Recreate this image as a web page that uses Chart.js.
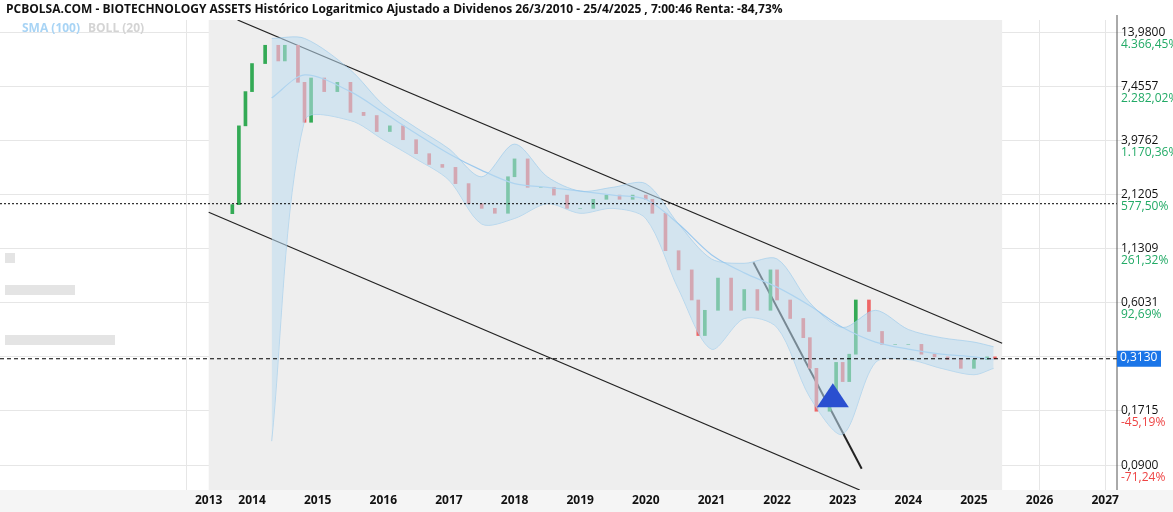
<!DOCTYPE html><html><head><meta charset="utf-8">
<script src="https://cdn.jsdelivr.net/npm/chart.js@4/dist/chart.umd.min.js"></script>
<style>body{margin:0;background:#fff}#w{position:relative;width:1173px;height:512px}</style></head><body><div id="w"><canvas id="c" width="1173" height="512"></canvas></div>
<script>
const years=[2013.70,2013.80,2013.90,2014.00,2014.20,2014.40,2014.50,2014.70,2014.80,2014.90,2015.10,2015.30,2015.50,2015.70,2015.90,2016.10,2016.30,2016.50,2016.70,2016.90,2017.10,2017.30,2017.50,2017.70,2017.90,2018.00,2018.20,2018.40,2018.60,2018.80,2019.00,2019.20,2019.40,2019.60,2019.80,2020.00,2020.10,2020.30,2020.50,2020.70,2020.80,2020.90,2021.10,2021.30,2021.50,2021.70,2021.90,2022.00,2022.20,2022.40,2022.50,2022.60,2022.80,2022.90,2023.00,2023.10,2023.20,2023.40,2023.60,2023.80,2024.00,2024.20,2024.40,2024.60,2024.80,2025.00,2025.20,2025.32];
const closes=[1.88,4.7,7.0,9.7,12,10,12,7.8,4.9,8.2,7.0,7.8,5.5,5.3,4.4,4.7,4.0,3.4,3.0,2.9,2.4,1.9,1.8,1.7,2.6,3.2,2.3,2.3,2.1,1.8,1.8,2.0,2.1,2.0,2.1,2.0,1.7,1.1,0.88,0.62,0.41,0.55,0.8,0.55,0.7,0.55,0.88,0.62,0.5,0.4,0.28,0.17,0.21,0.3,0.24,0.33,0.62,0.43,0.37,0.37,0.37,0.33,0.32,0.31,0.28,0.31,0.32,0.313];
const smaYears=[2014.3,2014.8,2015.5,2016.0,2016.5,2017.0,2017.5,2018.0,2018.5,2019.0,2019.5,2020.0,2020.5,2021.0,2021.5,2022.0,2022.5,2023.0,2023.5,2024.0,2024.5,2025.0,2025.3];
const smaVals=[6.5,8.5,7.0,5.5,4.3,3.4,2.8,2.4,2.3,2.2,2.1,2.0,1.5,1.05,0.85,0.72,0.58,0.45,0.38,0.35,0.33,0.32,0.31];
const bollUpper=[13,13,9,6,4.6,3.6,2.6,3.8,2.6,2.2,2.3,2.4,1.5,1.0,0.95,1.0,0.6,0.45,0.55,0.44,0.4,0.38,0.36];
const bollLower=[0.12,5,5,4,3.2,2.5,1.5,1.6,1.9,1.7,1.8,1.6,0.7,0.35,0.5,0.45,0.2,0.13,0.3,0.31,0.28,0.26,0.28];
const chanUpper=[[2013.78,16.1],[2025.43,0.375]];
const chanLower=[[2013.34,1.72],[2023.26,0.068]];
const trendLine=[[2021.64,0.96],[2023.29,0.087]];
const tickVals=[13.98,7.4557,3.9762,2.1205,1.1309,0.6031,0.3216,0.1715,0.09];
const tickPrice=['13,9800','7,4557','3,9762','2,1205','1,1309','0,6031','0,3216','0,1715','0,0900'];
const tickPct=['4.366,45%','2.282,02%','1.170,36%','577,50%','261,32%','92,69%','','-45,19%','-71,24%'];
const yearTicks=[2013,2014,2015,2016,2017,2018,2019,2020,2021,2022,2023,2024,2025,2026,2027];
const lastPrice=0.313, dottedLevel=1.9, dataStart=2013.34, dataEnd=2025.43;

const candles=closes.map((c,i)=>({x:years[i],y:[i?closes[i-1]:c*0.9,c]}));
const ccol=closes.map((c,i)=>(i&&c<closes[i-1])?'#ee6666':'#33aa55');
const pts=a=>a.map(p=>({x:p[0],y:p[1]}));
const deco={id:'deco',
 beforeDatasetsDraw(ch){const {ctx,chartArea:a,scales:{x,y}}=ch;ctx.save();
  ctx.fillStyle='#eeeeee';const x0=x.getPixelForValue(dataStart),x1=x.getPixelForValue(dataEnd);ctx.fillRect(x0,a.top,x1-x0,a.bottom-a.top);
  ctx.fillStyle='#e4e4e4';[[5,253,10,10],[5,285,70,10],[5,335,110,10]].forEach(r=>ctx.fillRect(...r));
  ctx.restore();},
 afterDatasetsDraw(ch){const {ctx,chartArea:a,scales:{x,y}}=ch;ctx.save();
  ctx.strokeStyle='#000';ctx.lineWidth=1;
  let yy=y.getPixelForValue(dottedLevel);ctx.setLineDash([2,2]);ctx.beginPath();ctx.moveTo(a.left,yy);ctx.lineTo(a.right,yy);ctx.stroke();
  yy=y.getPixelForValue(lastPrice);ctx.setLineDash([4,3]);ctx.beginPath();ctx.moveTo(a.left,yy);ctx.lineTo(a.right,yy);ctx.stroke();ctx.setLineDash([]);
  const tx=x.getPixelForValue(2022.85),ty=y.getPixelForValue(0.2);
  ctx.fillStyle='#2a4fd0';ctx.beginPath();ctx.moveTo(tx,ty-14);ctx.lineTo(tx+16,ty+10);ctx.lineTo(tx-16,ty+10);ctx.closePath();ctx.fill();
  ctx.strokeStyle='#555';ctx.beginPath();ctx.moveTo(a.right,a.top-5);ctx.lineTo(a.right,a.bottom);ctx.stroke();
  ctx.font='12px "Open Sans",sans-serif';ctx.textBaseline='top';
  tickVals.forEach((v,i)=>{const p=y.getPixelForValue(v);ctx.fillStyle='#111';ctx.fillText(tickPrice[i],a.right+4,p-6);
   ctx.fillStyle=v>=lastPrice?'#22aa66':'#ee4444';ctx.fillText(tickPct[i],a.right+4,p+6);});
  const lp=y.getPixelForValue(lastPrice);ctx.fillStyle='#1a75e8';ctx.fillRect(a.right,lp-8,44,16);ctx.fillStyle='#fff';ctx.fillText('0,3130',a.right+3,lp-7);
  ctx.fillStyle='#f5f5f5';ctx.fillRect(0,a.bottom,1173,22);
  ctx.font='bold 12px "Open Sans",sans-serif';ctx.fillStyle='#111';ctx.textAlign='center';
  yearTicks.forEach(t=>{const p=x.getPixelForValue(Math.max(t,dataStart));if(p<a.right)ctx.fillText(String(t),p,a.bottom+5);});
  ctx.textAlign='left';ctx.font='bold 12px "Open Sans",sans-serif';ctx.fillStyle='#111';
  ctx.fillText('PCBOLSA.COM - BIOTECHNOLOGY ASSETS Histórico Logaritmico Ajustado a Dividenos 26/3/2010 - 25/4/2025 , 7:00:46 Renta: -84,73%',6,4);
  ctx.fillStyle='#a8d4f5';ctx.fillText('SMA (100)',22,23);ctx.fillStyle='#d4d4d4';ctx.fillText('BOLL (20)',88,23);
  ctx.restore();}};
new Chart(document.getElementById('c'),{type:'bar',
 data:{datasets:[
  {type:'line',data:smaYears.map((t,i)=>({x:t,y:bollUpper[i]})),borderColor:'rgba(150,200,235,0.6)',borderWidth:1,backgroundColor:'rgba(190,220,240,0.55)',fill:'+1',pointRadius:0,tension:0.3},
  {type:'line',data:smaYears.map((t,i)=>({x:t,y:bollLower[i]})),borderColor:'rgba(150,200,235,0.6)',borderWidth:1,pointRadius:0,fill:false,tension:0.3},
  {type:'line',data:smaYears.map((t,i)=>({x:t,y:smaVals[i]})),borderColor:'#9cc9ee',borderWidth:1.2,pointRadius:0,fill:false,tension:0.3},
  {data:candles,backgroundColor:ccol,barThickness:3},
  {type:'line',data:pts(chanUpper),borderColor:'#222',borderWidth:1.2,pointRadius:0},
  {type:'line',data:pts(chanLower),borderColor:'#222',borderWidth:1.2,pointRadius:0},
  {type:'line',data:pts(trendLine),borderColor:'#222',borderWidth:2,pointRadius:0}
 ]},
 options:{responsive:false,animation:false,devicePixelRatio:1,
  layout:{padding:{top:20,right:56,bottom:22,left:0}},
  plugins:{legend:{display:false},tooltip:{enabled:false}},
  scales:{x:{type:'linear',offset:false,min:2010.16,max:2027.18,ticks:{display:false},afterFit:s=>{s.height=0;},afterBuildTicks:s=>{s.ticks=yearTicks.map(v=>({value:v}));},grid:{color:'#e6e6e6',offset:false},border:{display:false}},
   y:{type:'logarithmic',position:'right',min:0.068,max:16.1,ticks:{display:false},afterFit:s=>{s.width=0;},afterBuildTicks:s=>{s.ticks=tickVals.map(v=>({value:v}));},grid:{color:'#e6e6e6'},border:{display:false}}}},
 plugins:[deco]});
</script></body></html>
